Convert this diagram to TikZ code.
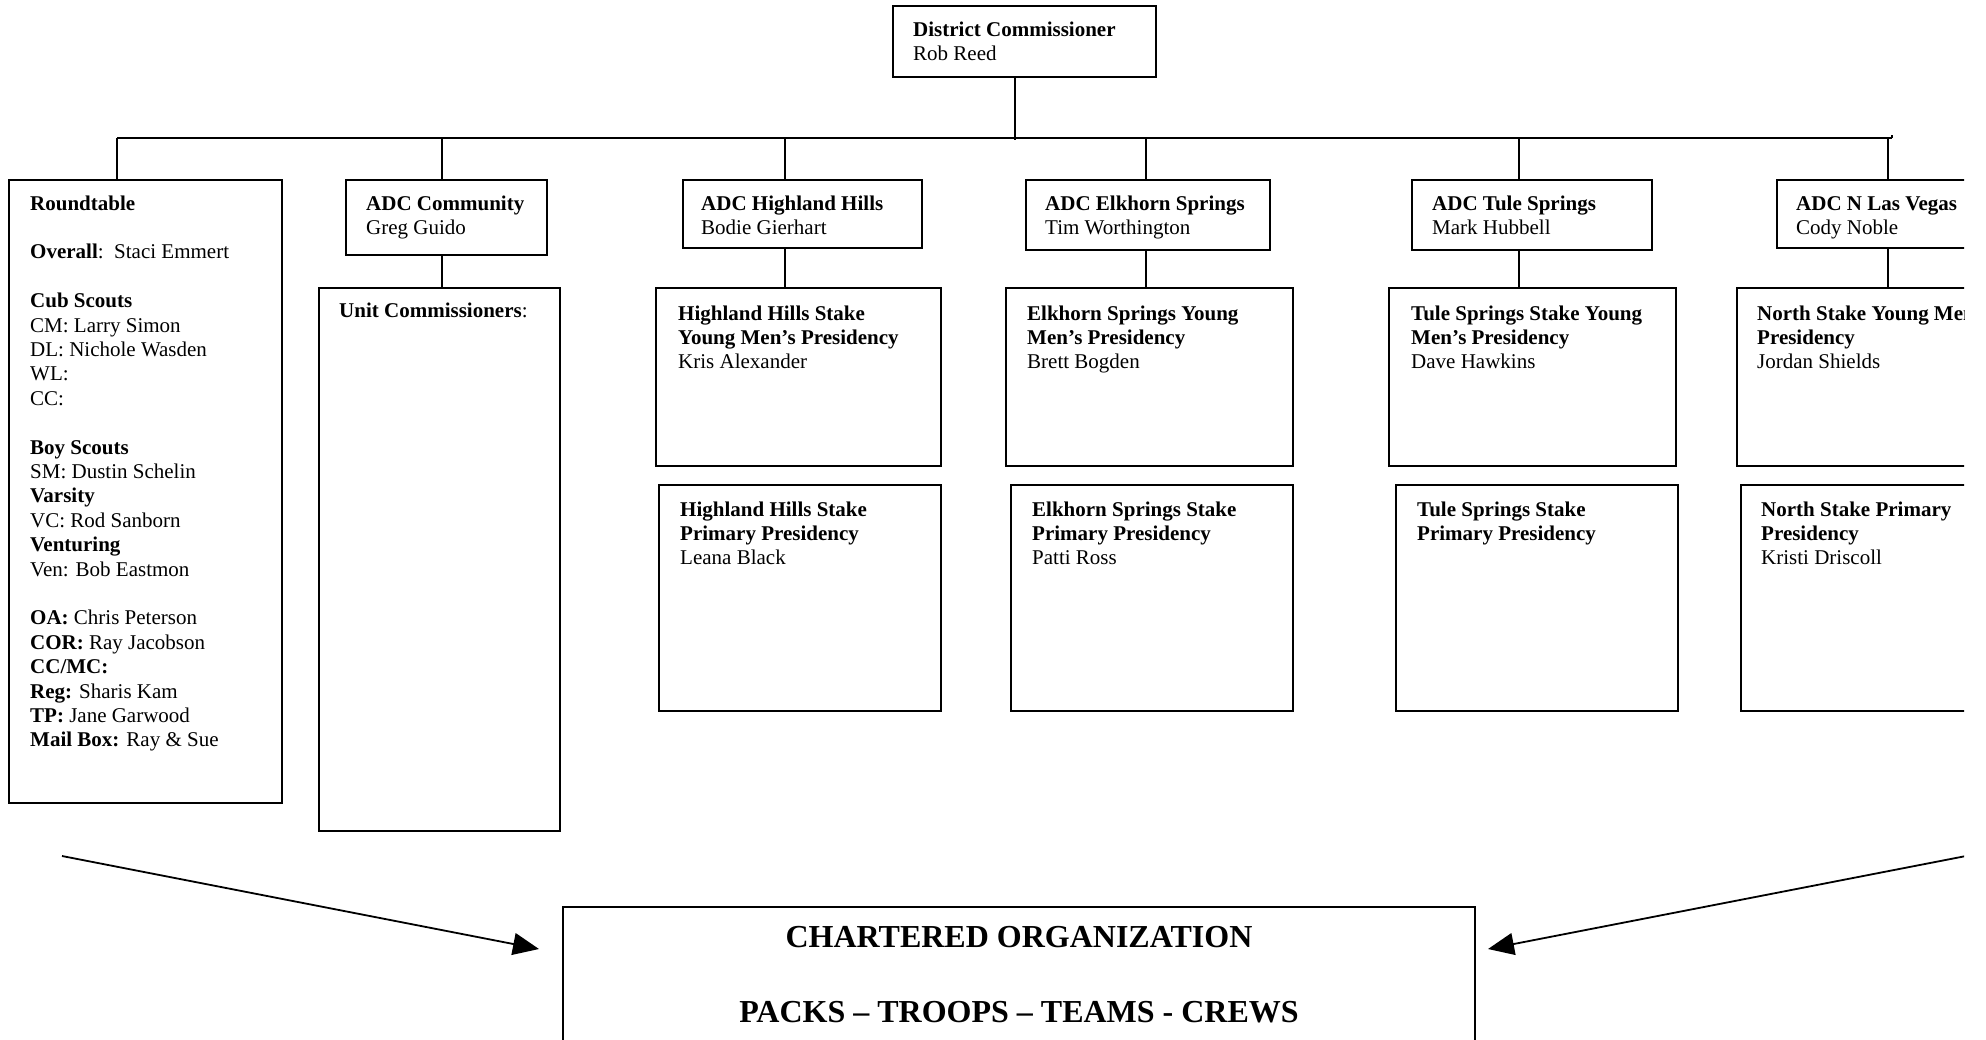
\documentclass[tikz,border=0pt]{standalone}
\usepackage{fontspec}
\setmainfont{Liberation Serif}
\usetikzlibrary{arrows.meta,calc}
\newcommand{\bxt}[1]{\parbox[t]{500pt}{\raggedright #1}}
\begin{document}
\begin{tikzpicture}[x=1pt,y=-1pt,
  box/.style={draw,line width=1.8pt,anchor=north west,inner sep=0pt,outer sep=0pt},
  txt/.style={anchor=base west,inner sep=0pt,font=\fontsize{21}{24.4}\selectfont},
  big/.style={anchor=base,inner sep=0pt,font=\fontsize{32}{36}\selectfont\bfseries},
  con/.style={line width=1.8pt},
  arr/.style={line width=1.8pt,-{Triangle[length=26pt,width=22pt]}}]
\useasboundingbox (0,0) rectangle (1986,1039);
\clip (0,0) rectangle (1964,1039);
% boxes
\node[box,minimum width=263pt,minimum height=71pt] (dc) at (893,6) {};
\node[box,minimum width=273pt,minimum height=623pt] (rt) at (9,180) {};
\node[box,minimum width=201pt,minimum height=75pt] (adcc) at (346,180) {};
\node[box,minimum width=241pt,minimum height=543pt] (uc) at (319,288) {};
\node[box,minimum width=239pt,minimum height=68pt] (adch) at (683,180) {};
\node[box,minimum width=244pt,minimum height=70pt] (adce) at (1026,180) {};
\node[box,minimum width=240pt,minimum height=70pt] (adct) at (1412,180) {};
\node[box,minimum width=260pt,minimum height=68pt] (adcn) at (1777,180) {};
\node[box,minimum width=285pt,minimum height=178pt] (ymh) at (656,288) {};
\node[box,minimum width=287pt,minimum height=178pt] (yme) at (1006,288) {};
\node[box,minimum width=287pt,minimum height=178pt] (ymt) at (1389,288) {};
\node[box,minimum width=287pt,minimum height=178pt] (ymn) at (1737,288) {};
\node[box,minimum width=282pt,minimum height=226pt] (prh) at (659,485) {};
\node[box,minimum width=282pt,minimum height=226pt] (pre) at (1011,485) {};
\node[box,minimum width=282pt,minimum height=226pt] (prt) at (1396,485) {};
\node[box,minimum width=282pt,minimum height=226pt] (prn) at (1741,485) {};
\node[box,minimum width=912pt,minimum height=150pt] (bot) at (563,907) {};
% texts
\node[txt] (dct) at ([shift={(20,30)}]dc.north west) {\bxt{\textbf{District Commissioner}\\Rob Reed}};
\node[txt] (rtt) at ([shift={(21,30)}]rt.north west) {\bxt{\textbf{Roundtable}\\\mbox{}\\\textbf{Overall}:\ \ Staci Emmert\\\mbox{}\\\textbf{Cub Scouts}\\CM: Larry Simon\\DL: Nichole Wasden\\WL:\\CC:\\\mbox{}\\\textbf{Boy Scouts}\\SM: Dustin Schelin\\\textbf{Varsity}\\VC: Rod Sanborn\\\textbf{Venturing}\\Ven: Bob Eastmon\\\mbox{}\\\textbf{OA:} Chris Peterson\\\textbf{COR:} Ray Jacobson\\\textbf{CC/MC:}\\\textbf{Reg:} Sharis Kam\\\textbf{TP:} Jane Garwood\\\textbf{Mail Box:} Ray \& Sue}};
\node[txt] (adcct) at ([shift={(20,30)}]adcc.north west) {\bxt{\textbf{ADC Community}\\Greg Guido}};
\node[txt] (uct) at ([shift={(20,29)}]uc.north west) {\bxt{\textbf{Unit Commissioners}:}};
\node[txt] (adcht) at ([shift={(18,30)}]adch.north west) {\bxt{\textbf{ADC Highland Hills}\\Bodie Gierhart}};
\node[txt] (adcet) at ([shift={(19,30)}]adce.north west) {\bxt{\textbf{ADC Elkhorn Springs}\\Tim Worthington}};
\node[txt] (adctt) at ([shift={(20,30)}]adct.north west) {\bxt{\textbf{ADC Tule Springs}\\Mark Hubbell}};
\node[txt] (adcnt) at ([shift={(19,30)}]adcn.north west) {\bxt{\textbf{ADC N Las Vegas}\\Cody Noble}};
\node[txt] (ymht) at ([shift={(22,32)}]ymh.north west) {\bxt{\textbf{Highland Hills Stake}\\\textbf{Young Men’s Presidency}\\Kris Alexander}};
\node[txt] (ymet) at ([shift={(21,32)}]yme.north west) {\bxt{\textbf{Elkhorn Springs Young}\\\textbf{Men’s Presidency}\\Brett Bogden}};
\node[txt] (ymtt) at ([shift={(22,32)}]ymt.north west) {\bxt{\textbf{Tule Springs Stake Young}\\\textbf{Men’s Presidency}\\Dave Hawkins}};
\node[txt] (ymnt) at ([shift={(20,32)}]ymn.north west) {\bxt{\textbf{North Stake Young Men’s}\\\textbf{Presidency}\\Jordan Shields}};
\node[txt] (prht) at ([shift={(21,31)}]prh.north west) {\bxt{\textbf{Highland Hills Stake}\\\textbf{Primary Presidency}\\Leana Black}};
\node[txt] (pret) at ([shift={(21,31)}]pre.north west) {\bxt{\textbf{Elkhorn Springs Stake}\\\textbf{Primary Presidency}\\Patti Ross}};
\node[txt] (prtt) at ([shift={(21,31)}]prt.north west) {\bxt{\textbf{Tule Springs Stake}\\\textbf{Primary Presidency}}};
\node[txt] (prnt) at ([shift={(20,31)}]prn.north west) {\bxt{\textbf{North Stake Primary}\\\textbf{Presidency}\\Kristi Driscoll}};
\node[big] (b1) at ([shift={(456,40)}]bot.north west) {CHARTERED ORGANIZATION};
\node[big] (b2) at ([shift={(456,115)}]bot.north west) {PACKS – TROOPS – TEAMS - CREWS};
% connectors
\coordinate (busl) at (117,138);
\coordinate (busr) at (1892,138);
\draw[con] (busl) -- (busr);
\draw[con] (busr) -- ++(0,-3);
\draw[con] (dc.south -| 1015,0) -- (1015,140);
\coordinate (d1) at (117,138);
\coordinate (d2) at (442,138);
\coordinate (d3) at (785,138);
\coordinate (d4) at (1146,138);
\coordinate (d5) at (1519,138);
\coordinate (d6) at (1888,138);
\draw[con] (d1) -- (d1 |- rt.north);
\draw[con] (d2) -- (d2 |- adcc.north);
\draw[con] (d3) -- (d3 |- adch.north);
\draw[con] (d4) -- (d4 |- adce.north);
\draw[con] (d5) -- (d5 |- adct.north);
\draw[con] (d6) -- (d6 |- adcn.north);
\draw[con] (d2 |- adcc.south) -- (d2 |- uc.north);
\draw[con] (d3 |- adch.south) -- (d3 |- ymh.north);
\draw[con] (d4 |- adce.south) -- (d4 |- yme.north);
\draw[con] (d5 |- adct.south) -- (d5 |- ymt.north);
\draw[con] (d6 |- adcn.south) -- (d6 |- ymn.north);
% arrows
\coordinate (la) at (62,856);
\coordinate (ra) at (1966,856);
\draw[arr] (la) -- ([shift={(-24,42)}]bot.north west);
\draw[arr] (ra) -- ([shift={(13,42)}]bot.north east);
\end{tikzpicture}
\end{document}
